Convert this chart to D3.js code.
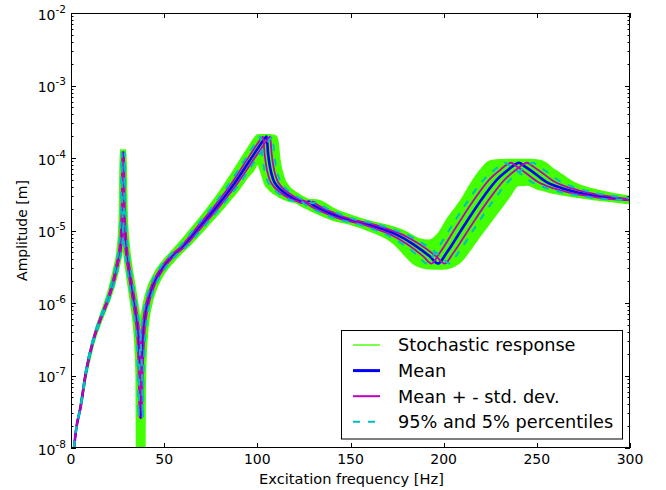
<!DOCTYPE html>
<html><head><meta charset="utf-8">
<script src="https://cdn.jsdelivr.net/npm/d3@7"></script>
<style>
body{margin:0;background:#fff}
svg{display:block}
text{font-family:"DejaVu Sans",sans-serif;fill:#000}
</style>
</head><body>
<svg id="chart" width="666" height="490"></svg>
<script>
// ---------- data ----------
const ampMean = [1.0e-8,2.0e-8,3.5e-8,1.1e-7,3.1e-7,6.2e-7,1.15e-6,2.1e-6,3.6e-6,6.0e-6,
  1.1e-5,2.5e-5,1.2e-4,2.5e-5,1.1e-5,5.5e-6,3.0e-6,1.4e-6,6.5e-7,3.0e-7,
  1.0e-7,2.6e-8,1.0e-7,3.0e-7,6.5e-7,1.1e-6,1.8e-6,3.0e-6,4.6e-6,6.0e-6,
  1.12e-5,2.1e-5,4.2e-5,9.3e-5,1.45e-4,1.8e-4,1.97e-4,1.2e-4,7.5e-5,5.0e-5,
  4.0e-5,3.4e-5,2.8e-5,2.5e-5,2.38e-5,2.5e-5,2.25e-5,1.73e-5,1.42e-5,1.26e-5,
  1.07e-5,8.7e-6,6.4e-6,4.4e-6,3.5e-6,4.9e-6,1.12e-5,2.5e-5,5.0e-5,7.0e-5,
  8.2e-5,8.6e-5,7.8e-5,6.8e-5,4.7e-5,3.8e-5,3.3e-5,3.0e-5,2.78e-5,2.63e-5];
const freqMean = [1.6,3,5,8,12,16,20,23,25,26.5,
  27.3,27.7,28.0,28.3,28.8,29.7,31,33,35,36.3,
  37.0,37.4,37.8,38.5,39.7,41.5,44.2,49,55,60,
  69,78,87,96,101,103.5,105,105.7,106.8,108.6,
  111,114,119,124,126,127.5,130,139,148,157,
  166,175,184,192.5,197,201.5,210.5,219.5,228.5,235,
  238.5,240.5,243,246.5,255,264,273,282,291,300];
const freqStdLeft = [1.57,2.95,4.91,7.86,11.78,15.71,19.64,22.59,24.55,26.02,
  26.81,27.2,27.5,27.79,28.28,29.17,30.44,32.41,34.37,35.65,
  36.33,36.73,37.12,37.81,38.99,40.75,43.4,48.12,54.01,58.92,
  67.76,76.6,85.43,94.27,99.18,101.64,103.11,103.8,104.88,106.65,
  109.0,111.95,116.86,121.77,123.73,125.2,127.66,136.5,145.34,154.17,
  163.01,171.85,180.69,189.04,193.45,197.87,206.71,215.55,224.39,230.77,
  234.21,236.17,238.63,242.06,250.41,259.25,268.09,276.92,285.76,301];
const freqStdRight = [1.63,3.05,5.09,8.14,12.22,16.29,20.36,23.41,25.45,26.98,
  27.79,28.2,28.5,28.81,29.32,30.23,31.56,33.59,35.63,36.95,
  37.67,38.07,38.48,39.19,40.41,42.25,45.0,49.88,55.99,61.08,
  70.24,79.4,88.57,97.73,102.82,105.36,106.89,107.6,108.72,110.55,
  113.0,116.05,121.14,126.23,128.27,129.8,132.34,141.5,150.66,159.83,
  168.99,178.15,187.31,195.97,200.55,205.13,214.29,223.45,232.61,239.23,
  242.79,244.83,247.37,250.94,259.59,268.75,277.91,287.08,296.24,305.4];
const freqP95 = [1.55,2.91,4.85,7.75,11.63,15.5,19.38,22.29,24.23,25.68,
  26.45,26.84,27.13,27.42,27.91,28.78,30.04,31.98,33.92,35.17,
  35.85,36.24,36.63,37.31,38.47,40.21,42.83,47.48,53.3,58.14,
  66.86,75.58,84.3,93.02,97.87,100.29,101.75,102.42,103.49,105.23,
  107.56,110.47,115.31,120.16,122.09,123.55,125.97,134.69,143.41,152.13,
  160.85,169.58,178.3,186.53,190.89,195.25,203.97,212.7,221.42,227.72,
  231.11,233.04,235.47,238.86,247.1,255.82,264.54,273.26,281.98,302];
const freqP5 = [1.65,3.09,5.16,8.25,12.37,16.5,20.62,23.71,25.78,27.32,
  28.15,28.56,28.87,29.18,29.69,30.62,31.96,34.02,36.09,37.43,
  38.15,38.56,38.97,39.69,40.93,42.79,45.57,50.52,56.71,61.86,
  71.14,80.42,89.7,98.98,104.13,106.71,108.26,108.98,110.11,111.97,
  114.44,117.53,122.69,127.84,129.91,131.45,134.03,143.31,152.59,161.87,
  171.15,180.43,189.7,198.47,203.11,207.75,217.03,226.3,235.58,242.29,
  245.89,247.96,250.53,254.14,262.91,272.18,281.46,290.74,300.02,309.3];

// envelope of the stochastic response cloud
const greenFreq = [0.9,1.5,2,4,6,8,10,13,16,20,23,25,26,26.5,27,27.5,28,28.5,29,29.4,
  30,31,32,33,34,35,35.3,36,37,38,39,39.5,39.8,40,41,42,43,44,46,48,
  50,55,60,65,70,75,80,85,90,95,98,99.5,100,102,104,106,108,110,111,112,
  114,117,120,124,128,132,136,140,150,160,170,175,179,183,187,192,197,202,206,210,
  215,220,223,225,230,235,240,245,250,253,255,258,262,266,270,280,290,300];
const greenLow = [3e-9,6.3e-9,1.15e-8,2.48e-8,4.52e-8,9.33e-8,1.62e-7,3.27e-7,5.35e-7,9.77e-7,1.64e-6,2.54e-6,3.3e-6,3.8e-6,4.47e-6,5.25e-6,5.89e-6,4.47e-6,3.5e-6,2.95e-6,
  2.28e-6,1.52e-6,1.01e-6,6.68e-7,3.66e-7,1.0e-7,3e-9,3e-9,3e-9,3e-9,3e-9,3e-9,6.3e-8,1.21e-7,3.82e-7,6.68e-7,8.83e-7,1.14e-6,1.62e-6,2.09e-6,
  2.57e-6,3.72e-6,5.07e-6,6.76e-6,9.33e-6,1.3e-5,1.8e-5,2.55e-5,3.66e-5,5.5e-5,6.76e-5,7.94e-5,8.39e-5,6.31e-5,4.37e-5,3.75e-5,3.35e-5,3.1e-5,2.99e-5,2.87e-5,
  2.72e-5,2.53e-5,2.45e-5,2.16e-5,1.92e-5,1.71e-5,1.55e-5,1.41e-5,1.22e-5,9.93e-6,7.6e-6,6.0e-6,4.6e-6,3.6e-6,3.15e-6,2.98e-6,2.95e-6,3.0e-6,3.25e-6,3.9e-6,
  5.8e-6,8.7e-6,1.1e-5,1.29e-5,1.91e-5,2.84e-5,4.19e-5,4.25e-5,3.78e-5,3.59e-5,3.48e-5,3.31e-5,3.17e-5,3.04e-5,2.92e-5,2.69e-5,2.51e-5,2.34e-5];
const greenHigh = [8.9e-9,1.0e-8,1.29e-8,2.81e-8,5.82e-8,1.24e-7,2.14e-7,4.18e-7,7.13e-7,1.45e-6,3.02e-6,5.93e-6,1.66e-5,1.29e-4,1.29e-4,1.29e-4,1.29e-4,1.29e-4,1.29e-4,1.29e-4,
  2.0e-5,6.97e-6,4.09e-6,2.72e-6,1.91e-6,1.32e-6,1.17e-6,9.1e-7,6.2e-7,7.4e-7,1.02e-6,1.15e-6,1.23e-6,1.28e-6,1.56e-6,1.87e-6,2.09e-6,2.34e-6,2.92e-6,3.42e-6,
  3.98e-6,5.5e-6,7.66e-6,1.1e-5,1.58e-5,2.32e-5,3.48e-5,5.42e-5,8.71e-5,1.38e-4,1.82e-4,2.02e-4,2.07e-4,2.09e-4,2.09e-4,2.09e-4,2.08e-4,2.0e-4,1.7e-4,9.7e-5,
  5.62e-5,4.02e-5,3.43e-5,2.96e-5,2.66e-5,2.63e-5,2.4e-5,2.07e-5,1.62e-5,1.35e-5,1.17e-5,1.07e-5,9.8e-6,8.6e-6,7.6e-6,7.3e-6,9.0e-6,1.45e-5,2.0e-5,2.8e-5,
  4.62e-5,6.98e-5,8.5e-5,9.1e-5,9.45e-5,9.55e-5,9.55e-5,9.5e-5,9.35e-5,9.0e-5,8.5e-5,7.33e-5,6.25e-5,5.3e-5,4.57e-5,3.72e-5,3.25e-5,2.95e-5];

const xTicks = [0, 50, 100, 150, 200, 250, 300];
const yTickExps = [-8, -7, -6, -5, -4, -3, -2];
const legendLabels = ["Stochastic response", "Mean", "Mean + - std. dev.", "95% and 5% percentiles"];
const xLabel = "Excitation frequency [Hz]";
const yLabel = "Amplitude [m]";

// ---------- chart ----------
const L = 71, R = 630, T = 13, B = 448;
const COL = {green:"#44ff00", blue:"#0000ff", mag:"#bf00bf", cyan:"#00bfbf"};
const svg = d3.select("#chart");
const x = d3.scaleLinear().domain([0, 300]).range([L, R]);
const y = d3.scaleLog().domain([1e-8, 1e-2]).range([B, T]);

svg.append("rect").attr("width", 666).attr("height", 490).attr("fill", "#fff");
svg.append("clipPath").attr("id", "clip").append("rect")
  .attr("x", L).attr("y", T).attr("width", R - L).attr("height", B - T);
const plot = svg.append("g").attr("clip-path", "url(#clip)");

// stochastic cloud
const gIdx = d3.range(greenFreq.length);
const area = d3.area().curve(d3.curveMonotoneX)
  .x(i => x(greenFreq[i])).y0(i => y(greenLow[i])).y1(i => y(greenHigh[i]));
plot.append("path").attr("d", area(gIdx)).attr("fill", COL.green)
  .attr("stroke", COL.green).attr("stroke-width", 1.6).attr("stroke-linejoin", "round");

const idx = d3.range(ampMean.length);
function curve(freqs) {
  return d3.line().curve(d3.curveMonotoneX).x(i => x(freqs[i])).y(i => y(ampMean[i]))(idx);
}
plot.append("path").attr("d", curve(freqMean)).attr("fill", "none")
  .attr("stroke", COL.blue).attr("stroke-width", 2.6);
[freqStdLeft, freqStdRight].forEach(f => plot.append("path").attr("d", curve(f))
  .attr("fill", "none").attr("stroke", COL.mag).attr("stroke-width", 1.8));
[freqP95, freqP5].forEach(f => plot.append("path").attr("d", curve(f))
  .attr("fill", "none").attr("stroke", COL.cyan).attr("stroke-width", 2)
  .attr("stroke-dasharray", "7,8"));

// frame
svg.append("rect").attr("x", L + 0.5).attr("y", T + 0.5).attr("width", R - L - 1).attr("height", B - T - 1)
  .attr("fill", "none").attr("stroke", "#000").attr("stroke-width", 1);

// ticks
const tk = svg.append("g").attr("stroke", "#000").attr("stroke-width", 1);
xTicks.forEach(v => {
  const px = Math.round(x(v)) + 0.5;
  tk.append("line").attr("x1", px).attr("x2", px).attr("y1", B).attr("y2", B - 5);
  tk.append("line").attr("x1", px).attr("x2", px).attr("y1", T).attr("y2", T + 5);
  svg.append("text").attr("x", x(v)).attr("y", B + 16).attr("text-anchor", "middle")
    .attr("font-size", 14).text(v);
});
yTickExps.forEach((e, k) => {
  const v = Math.pow(10, e);
  const py = Math.round(y(v)) + 0.5;
  tk.append("line").attr("x1", L).attr("x2", L + 5).attr("y1", py).attr("y2", py);
  tk.append("line").attr("x1", R).attr("x2", R - 5).attr("y1", py).attr("y2", py);
  const t = svg.append("text").attr("x", 66).attr("y", y(v) + 6.5).attr("text-anchor", "end")
    .attr("font-size", 14);
  t.append("tspan").text("10");
  t.append("tspan").attr("dy", -7).attr("font-size", 10.5).text(String(e));
  if (k < yTickExps.length - 1) {
    for (let m = 2; m <= 9; m++) {
      const my = Math.round(y(m * v)) + 0.5;
      tk.append("line").attr("x1", L).attr("x2", L + 2.5).attr("y1", my).attr("y2", my);
      tk.append("line").attr("x1", R).attr("x2", R - 2.5).attr("y1", my).attr("y2", my);
    }
  }
});

// axis labels
svg.append("text").attr("x", (L + R) / 2 + 1).attr("y", 484).attr("text-anchor", "middle")
  .attr("font-size", 14.6).text(xLabel);
svg.append("text").attr("transform", `translate(27,${(T + B) / 2}) rotate(-90)`)
  .attr("text-anchor", "middle").attr("font-size", 14).text(yLabel);

// legend
const lg = svg.append("g");
lg.append("rect").attr("x", 341.5).attr("y", 330.5).attr("width", 281).attr("height", 108.5)
  .attr("fill", "#fff").attr("stroke", "#000").attr("stroke-width", 1);
const legendStyles = [
  {c: COL.green, w: 1.4, d: null},
  {c: COL.blue, w: 3, d: null},
  {c: COL.mag, w: 2, d: null},
  {c: COL.cyan, w: 2, d: "7,8"}
];
legendLabels.forEach((lab, i) => {
  const ly = 345 + i * 25.6;
  const s = legendStyles[i];
  const ln = lg.append("line").attr("x1", 353).attr("x2", 380).attr("y1", ly).attr("y2", ly)
    .attr("stroke", s.c).attr("stroke-width", s.w);
  if (s.d) ln.attr("stroke-dasharray", s.d);
  lg.append("text").attr("x", 398).attr("y", ly).attr("dy", "0.36em")
    .attr("font-size", 17.7).text(lab);
});
</script>
</body></html>
